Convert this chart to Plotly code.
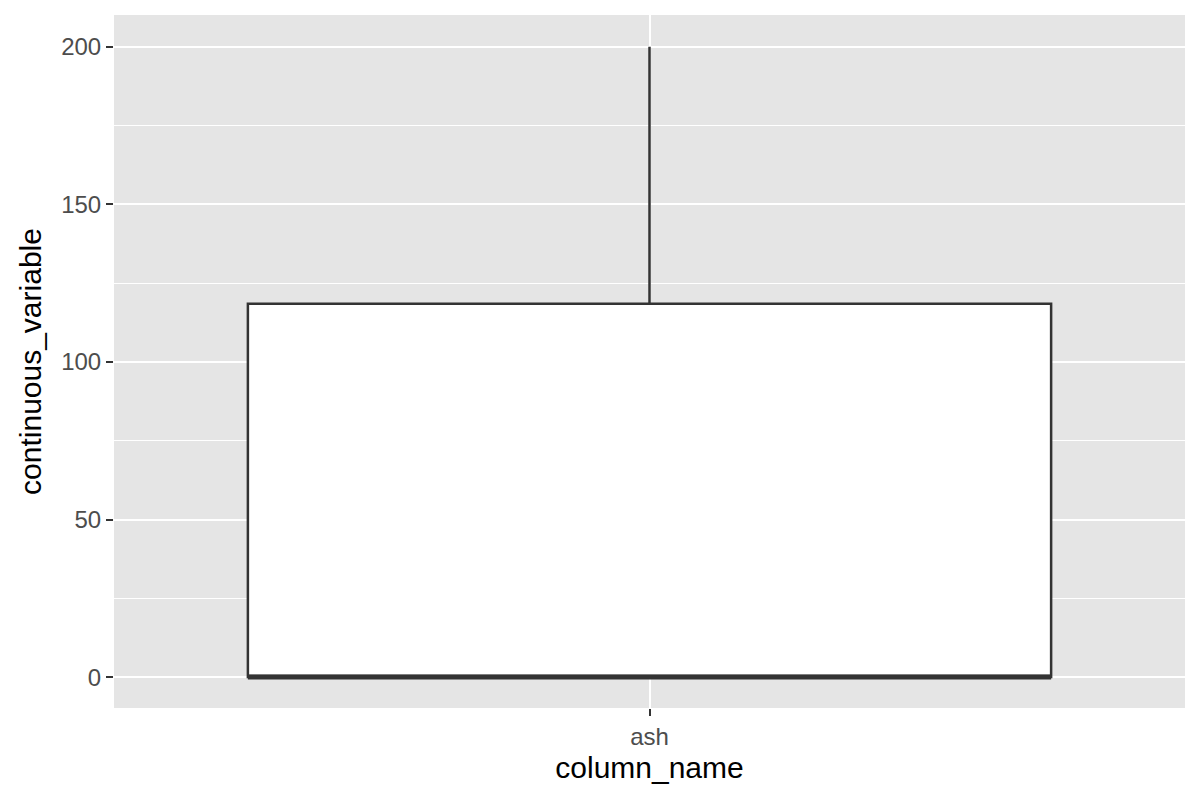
import plotly.graph_objects as go

categories = ["ash"]
q1 = [0]
median = [0]
q3 = [118.5]
lowerfence = [0]
upperfence = [200]
y_ticks = [0, 50, 100, 150, 200]
box_width = 0.9

xpos = list(range(1, len(categories) + 1))

fig = go.Figure()
fig.add_trace(go.Box(
    x=xpos, q1=q1, median=median, q3=q3,
    lowerfence=lowerfence, upperfence=upperfence,
    width=box_width, whiskerwidth=0,
    fillcolor="white", line=dict(color="#333333", width=2.5),
    boxpoints=False, showlegend=False, hoverinfo="skip"
))
# thicker median line as in ggplot (fatten)
for i, xv in enumerate(xpos):
    fig.add_trace(go.Scatter(
        x=[xv - box_width / 2, xv + box_width / 2], y=[median[i], median[i]],
        mode="lines", line=dict(color="#333333", width=5),
        showlegend=False, hoverinfo="skip"
    ))

font = "Liberation Sans, Arial, Helvetica, sans-serif"
fig.update_layout(
    width=1200, height=800,
    margin=dict(l=114, r=15, t=15, b=92),
    paper_bgcolor="white", plot_bgcolor="#E5E5E5",
    font=dict(family=font),
    xaxis=dict(
        range=[0.4, len(categories) + 0.6],
        tickvals=xpos, ticktext=categories,
        showgrid=True, gridcolor="white", gridwidth=2.2,
        zeroline=False, ticks="outside", ticklen=7, tickwidth=2, tickcolor="#333333",
        tickfont=dict(size=24, color="#4D4D4D", family=font),
        title=dict(text="column_name", font=dict(size=30, color="black", family=font), standoff=8),
    ),
    yaxis=dict(
        range=[-9.8, 210.1],
        tickvals=y_ticks,
        showgrid=True, gridcolor="white", gridwidth=2.2,
        minor=dict(dtick=25, tick0=25, showgrid=True, gridcolor="white", gridwidth=1.1, ticks=""),
        zeroline=False, ticks="outside", ticklen=7, tickwidth=2, tickcolor="#333333",
        tickfont=dict(size=24, color="#4D4D4D", family=font),
        title=dict(text="continuous_variable", font=dict(size=30, color="black", family=font), standoff=10),
    ),
)

fig.write_html("out.html")
